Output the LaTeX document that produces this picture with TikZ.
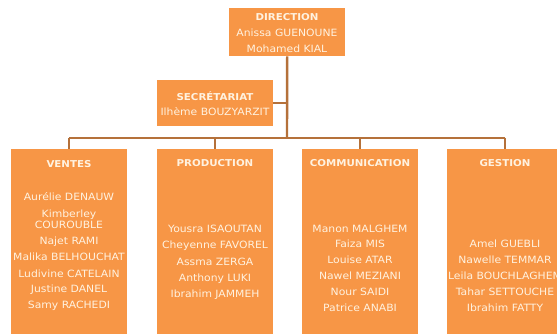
\documentclass[tikz,border=0pt]{standalone}
\usepackage{fontspec}
\setmainfont{DejaVu Sans}[FakeStretch=1.08]
\usepackage{xcolor}
\definecolor{boxorange}{HTML}{F79646}
\definecolor{linebrown}{HTML}{B5713A}
\definecolor{textcream}{HTML}{FFF2E0}

\begin{document}
\begin{tikzpicture}[x=1pt,y=-1pt,
 box/.style={fill=boxorange, inner sep=0, anchor=north west, minimum width=116pt},
 lbl/.style={text=textcream, font=\fontsize{10}{11.5}\selectfont, inner sep=0, align=center},
 ttl/.style={lbl, font=\fontsize{9.5}{11}\selectfont\bfseries},
 link/.style={draw=linebrown, line width=2.4pt}]
\clip (0,0) rectangle (557,334);
\fill[white] (0,0) rectangle (557,334);
% boxes
\node[box, minimum height=48pt] (dir) at (229,8) {};
\node[box, minimum height=46pt] (sec) at (157,80) {};
\node[box, minimum height=190pt] (ventes) at (11,149) {};
\node[box, minimum height=190pt] (prod) at (157,149) {};
\node[box, minimum height=190pt] (comm) at (302,149) {};
\node[box, minimum height=190pt] (gest) at (447,149) {};
% connectors
\coordinate (bus) at (287,138);
\draw[link] (dir.south) -- (bus);
\draw[link] (sec.east) -- (sec.east -| dir.south);
\draw[link] (ventes.north |- bus) -- (gest.north |- bus);
\foreach \b in {ventes,prod,comm,gest}
 \draw[link] (\b.north |- bus) -- (\b.north);
% texts
\node[ttl] (dirT) at (287,17) {DIRECTION};
\node[lbl] (dirA) at (287,33) {Anissa GUENOUNE};
\node[lbl] (dirB) at (287,49) {Mohamed KIAL};
\node[ttl] (secT) at (215,96) {SECRÉTARIAT};
\node[lbl] (secA) at (215,112) {Ilhème BOUZYARZIT};
\node[ttl] (venT) at (69,164) {VENTES};
\foreach \y/\n [count=\i] in {197/Aurélie DENAUW, 219.5/{Kimberley\\COUROUBLE}, 242/Najet RAMI,
 257/Malika BELHOUCHAT, 274/Ludivine CATELAIN, 290/Justine DANEL, 306/Samy RACHEDI}
 \node[lbl] (ven\i) at (69,\y) {\n};
\node[ttl] (proT) at (215,163) {PRODUCTION};
\foreach \y/\n [count=\i] in {229/Yousra ISAOUTAN, 246/Cheyenne FAVOREL, 262/Assma ZERGA,
 279/Anthony LUKI, 295/Ibrahim JAMMEH}
 \node[lbl] (pro\i) at (215,\y) {\n};
\node[ttl] (comT) at (360,163) {COMMUNICATION};
\foreach \y/\n [count=\i] in {229/Manon MALGHEM, 244/Faiza MIS, 260/Louise ATAR,
 276/Nawel MEZIANI, 292/Nour SAIDI, 308/Patrice ANABI}
 \node[lbl] (com\i) at (360,\y) {\n};
\node[ttl] (gesT) at (505,163) {GESTION};
\foreach \y/\n [count=\i] in {244/Amel GUEBLI, 260/Nawelle TEMMAR, 276/Leila BOUCHLAGHEM,
 292/Tahar SETTOUCHE, 308/Ibrahim FATTY}
 \node[lbl] (ges\i) at (505,\y) {\n};
\end{tikzpicture}
\end{document}
